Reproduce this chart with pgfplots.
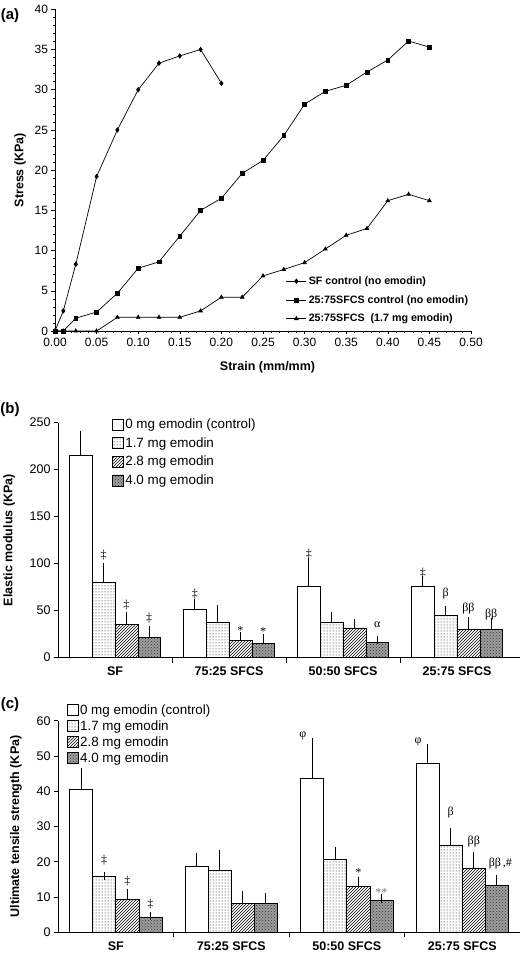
\documentclass[border=0pt]{standalone}
\usepackage{pgfplots}
\pgfplotsset{compat=1.18}
\usepackage{pgfplotstable}
\usetikzlibrary{patterns}
\usepackage{fontspec}
\setmainfont{Liberation Sans}
\newfontfamily\serif{Liberation Serif}

% ---------- data ----------
\pgfplotstableread{
x y
0 0
0.01 2.5
0.025 8.3
0.05 19.2
0.075 25
0.1 30
0.125 33.3
0.15 34.2
0.175 35
0.2 30.8
}\sfctrl
\pgfplotstableread{
x y
0 0
0.01 0
0.025 1.6
0.05 2.35
0.075 4.7
0.1 7.8
0.125 8.6
0.15 11.8
0.175 15.0
0.2 16.5
0.225 19.6
0.25 21.2
0.275 24.3
0.3 28.2
0.325 29.8
0.35 30.55
0.375 32.2
0.4 33.7
0.425 36.05
0.45 35.3
}\csctrl
\pgfplotstableread{
x y
0 0
0.01 0
0.025 0
0.05 0
0.075 1.7
0.1 1.7
0.125 1.7
0.15 1.7
0.175 2.5
0.2 4.2
0.225 4.2
0.25 6.85
0.275 7.65
0.3 8.5
0.325 10.2
0.35 11.9
0.375 12.75
0.4 16.2
0.425 17.0
0.45 16.2
}\csemod
% elastic modulus: value / error (plus)
\pgfplotstableread{
x w we d de h he k ke
0 215 22 80 16 35 9.3 21.3 7.8
1 51.8 6.7 37.9 13.2 18.4 5 15.6 5
2 75.5 26.3 37.2 7.1 31.6 4.6 16 3.1
3 75.5 6.8 45 5 30.5 8.5 29.8 8.2
}\modtab
% ultimate tensile strength: value / error (plus)
\pgfplotstableread{
x w we d de h he k ke
0 40.6 4.9 15.8 0.2 9.35 1.7 4.35 0.25
1 18.7 2.5 17.5 4.7 8.3 2.3 8.3 1.6
2 43.8 10.2 20.7 2.3 13 1.4 9 0.6
3 47.8 4.5 24.8 3.5 18.05 3.65 13.3 1.7
}\utstab

\pgfplotsset{
  barbase/.style={ybar, bar width=0.2, bar shift=0pt, draw=black, line width=0.6pt,
    error bars/y dir=plus, error bars/y explicit,
    error bars/error bar style={line width=0.9pt, black},
    error bars/error mark options={line width=0.9pt, mark size=4.2pt, black},
    legend image code/.code={\draw[##1] (0pt,-5.5pt) rectangle (11pt,5.5pt);}},
  wbar/.style={barbase, fill=white},
  dbar/.style={barbase, fill=white, postaction={pattern=dots}},
  hbar/.style={barbase, fill=white, postaction={pattern=north east lines}},
  kbar/.style={barbase, fill=black!38, postaction={pattern=crosshatch dots, pattern color=black!80}},
  catax/.style={scale only axis, anchor=south west, clip=false,
    axis x line=bottom, axis y line=left, axis line style={-, line width=0.6pt},
    ymin=0, xmin=-0.5,
    xtick={0,1,2,3}, xticklabels={SF,75:25 SFCS,50:50 SFCS,25:75 SFCS},
    minor xtick={0.5,1.5,2.5},
    major x tick style={draw=none},
    minor tick length=5pt, major tick length=4pt, tick align=outside,
    tick style={line width=0.6pt, black},
    xticklabel style={font=\bfseries\fontsize{12.5}{14}\selectfont, yshift=-2pt},
    yticklabel style={font=\fontsize{12.5}{14}\selectfont, /pgf/number format/assume math mode=true},
    ylabel style={font=\bfseries\fontsize{12.5}{14}\selectfont, anchor=center},
    legend style={draw=none, fill=none, anchor=north west, inner sep=0pt,
      font=\fontsize{13.4}{15}\selectfont, nodes={inner sep=1.5pt}},
    legend cell align=left},
}
\newcommand{\ann}[3]{\node[font=\serif\fontsize{12}{13}\selectfont] at (axis cs:#1,#2) {#3};}

\begin{document}
\begin{tikzpicture}[x=1pt,y=1pt]
\path[use as bounding box] (0,0) rectangle (521,955);

% ---------------- (a) ----------------
\begin{axis}[scale only axis, width=416pt, height=321.7pt,
  at={(55pt,624pt)}, anchor=south west, clip=false,
  xmin=0, xmax=0.5, ymin=0, ymax=40,
  axis x line=bottom, axis y line=left, axis line style={-, line width=0.6pt},
  xtick={0,0.05,0.1,0.15,0.2,0.25,0.3,0.35,0.4,0.45,0.5},
  ytick={0,5,10,15,20,25,30,35,40},
  minor x tick num=4, minor y tick num=4,
  tick align=outside, major tick length=3.5pt, minor tick length=2pt,
  tick style={line width=0.5pt, black},
  xticklabel style={font=\fontsize{12}{13}\selectfont, /pgf/number format/.cd, fixed, fixed zerofill, precision=2, assume math mode=true},
  yticklabel style={font=\fontsize{12}{13}\selectfont, /pgf/number format/assume math mode=true},
  xlabel={Strain (mm/mm)}, ylabel={Stress (KPa)},
  xlabel style={font=\bfseries\fontsize{12.5}{14}\selectfont, at={(axis description cs:0.511,-0.112)}, anchor=center},
  ylabel style={font=\bfseries\fontsize{12.5}{14}\selectfont, at={(axis description cs:-0.084,0.5)}, anchor=center},
  legend style={draw=none, fill=none, at={(axis description cs:0.555,0.176)}, anchor=north west,
    inner sep=0pt, row sep=5.5pt, font=\bfseries\fontsize{10.7}{12}\selectfont, nodes={inner sep=2pt}},
  legend cell align=left,
  legend image code/.code={\draw[mark repeat=2,mark phase=2,#1] plot coordinates {(0pt,0pt) (10pt,0pt) (20pt,0pt)};},
  every axis plot/.append style={black, line width=0.7pt},
]
\addplot[mark=diamond*, mark size=2.2pt] table[x=x,y=y] {\sfctrl};
\addlegendentry{SF control (no emodin)}
\addplot[mark=square*, mark size=1.9pt] table[x=x,y=y] {\csctrl};
\addlegendentry{25:75SFCS control (no emodin)}
\addplot[mark=triangle*, mark size=2.1pt] table[x=x,y=y] {\csemod};
\addlegendentry{25:75SFCS\ \ (1.7 mg emodin)}
\end{axis}

% ---------------- (b) ----------------
\begin{axis}[catax, width=461.7pt, height=235pt, at={(58pt,297.3pt)},
  xmax=3.55, ymax=250, ytick={0,50,100,150,200,250},
  ylabel={Elastic modulus (KPa)},
  ylabel style={at={(axis description cs:-0.106,0.5)}},
  legend style={at={(axis description cs:0.117,1.024)}, row sep=4.5pt},
]
\addplot[wbar] table[x expr=\thisrow{x}-0.3, y=w, y error=we] {\modtab};
\addlegendentry{0 mg emodin (control)}
\addplot[dbar] table[x expr=\thisrow{x}-0.1, y=d, y error=de] {\modtab};
\addlegendentry{1.7 mg emodin}
\addplot[hbar] table[x expr=\thisrow{x}+0.1, y=h, y error=he] {\modtab};
\addlegendentry{2.8 mg emodin}
\addplot[kbar] table[x expr=\thisrow{x}+0.3, y=k, y error=ke] {\modtab};
\addlegendentry{4.0 mg emodin}
\ann{-0.1}{109}{‡}
\ann{0.1}{56}{‡}
\ann{0.3}{42}{‡}
\ann{0.7}{68}{‡}
\ann{1.1}{29}{*}
\ann{1.3}{28}{*}
\ann{1.7}{110}{‡}
\ann{2.3}{35}{α}
\ann{2.7}{90}{‡}
\ann{2.9}{68}{β}
\ann{3.1}{52.5}{ββ}
\ann{3.3}{45.5}{ββ}
\end{axis}

% ---------------- (c) ----------------
\begin{axis}[catax, width=462pt, height=211.6pt, at={(58pt,22.7pt)},
  xmax=3.5, ymax=60, ytick={0,10,20,30,40,50,60},
  ylabel={Ultimate tensile strength (KPa)},
  ylabel style={at={(axis description cs:-0.091,0.5)}},
  legend style={at={(axis description cs:0.019,1.084)}, row sep=1.8pt},
]
\addplot[wbar] table[x expr=\thisrow{x}-0.3, y=w, y error=we] {\utstab};
\addlegendentry{0 mg emodin (control)}
\addplot[dbar] table[x expr=\thisrow{x}-0.1, y=d, y error=de] {\utstab};
\addlegendentry{1.7 mg emodin}
\addplot[hbar] table[x expr=\thisrow{x}+0.1, y=h, y error=he] {\utstab};
\addlegendentry{2.8 mg emodin}
\addplot[kbar] table[x expr=\thisrow{x}+0.3, y=k, y error=ke] {\utstab};
\addlegendentry{4.0 mg emodin}
\ann{-0.1}{20.5}{‡}
\ann{0.1}{14.4}{‡}
\ann{0.3}{7.9}{‡}
\ann{1.62}{55.7}{φ}
\ann{2.617}{54}{φ}
\ann{2.1}{17}{*}
\node[font=\serif\fontsize{12}{13}\selectfont, text=black!55] at (axis cs:2.3,11.3) {**};
\ann{2.9}{34}{β}
\ann{3.1}{25.7}{ββ}
\ann{3.33}{19.4}{ββ\,,\#}
\end{axis}

% panel labels
\node[font=\bfseries\fontsize{15}{16}\selectfont] at (10,939.5) {(a)};
\node[font=\bfseries\fontsize{15}{16}\selectfont] at (10,545.5) {(b)};
\node[font=\bfseries\fontsize{15}{16}\selectfont] at (10,250) {(c)};
\end{tikzpicture}
\end{document}
